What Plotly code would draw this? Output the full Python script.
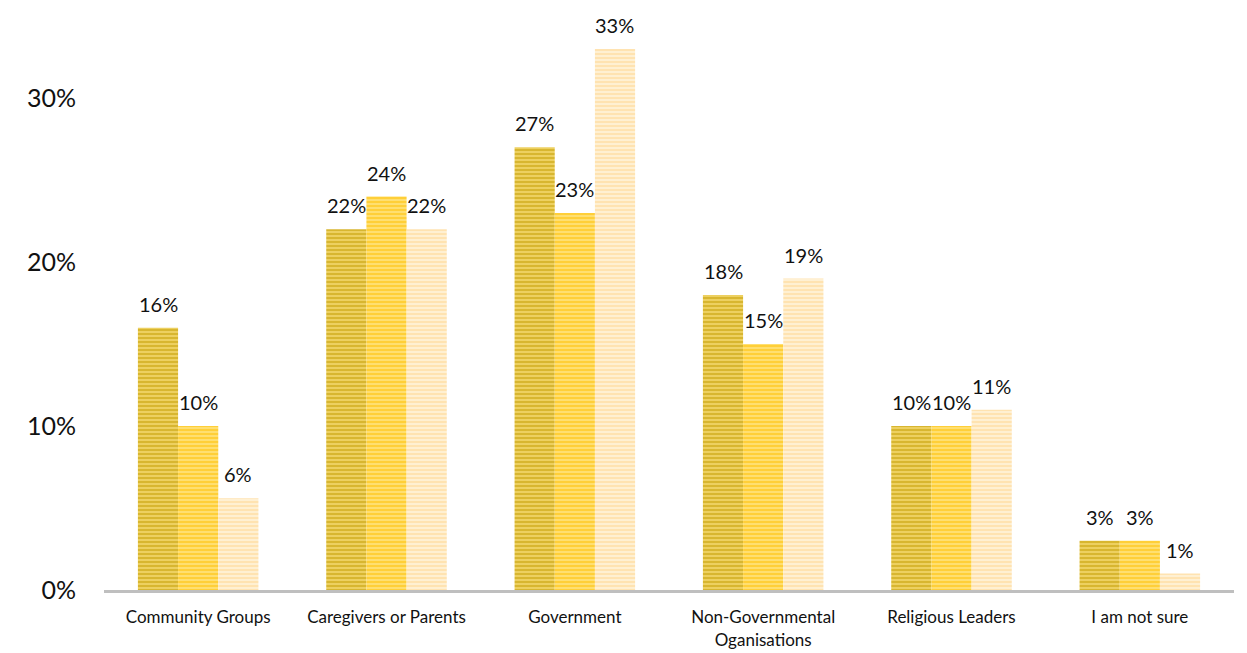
import plotly.graph_objects as go

categories = ['Community Groups', 'Caregivers or Parents', 'Government',
              'Non-Governmental<br>Oganisations', 'Religious Leaders', 'I am not sure']
series_a = [16, 22, 27, 18, 10, 3]
series_b = [10, 24, 23, 15, 10, 3]
series_c = [5.6, 22, 33, 19, 11, 1]
labels_a = [16, 22, 27, 18, 10, 3]
labels_b = [10, 24, 23, 15, 10, 3]
labels_c = [6, 22, 33, 19, 11, 1]

styles = [
    ('Series 1', series_a, labels_a, '#EDD060', '#C49B00', -40),
    ('Series 2', series_b, labels_b, '#FFDF70', '#FFC000', 0),
    ('Series 3', series_c, labels_c, '#FFF0D2', '#FFD690', 40),
]

fig = go.Figure()
for name, vals, labs, bg, fg, dx in styles:
    fig.add_trace(go.Bar(
        name=name, x=categories, y=vals,
        marker=dict(color=bg, line=dict(width=0),
                    pattern=dict(shape='-', fgcolor=fg, size=4, solidity=0.5)),
    ))
    for c, v, l in zip(categories, vals, labs):
        fig.add_annotation(x=c, y=v, text=f'{l}%', showarrow=False,
                           xshift=dx, yshift=24,
                           font=dict(size=20, color='#111111'))

fig.update_layout(
    width=1247, height=653,
    barmode='group', bargap=0.36, bargroupgap=0,
    showlegend=False,
    plot_bgcolor='white', paper_bgcolor='white',
    font=dict(family='Lato, Open Sans, sans-serif', color='#111111'),
    margin=dict(l=96, r=21, t=0, b=71),
    xaxis=dict(showgrid=False, showline=True, linecolor='#BFBFBF', linewidth=3,
               ticks='', tickfont=dict(size=17), automargin=False,
               ticklabelstandoff=10),
    yaxis=dict(range=[0, 35.5], tickvals=[0, 10, 20, 30],
               ticktext=['0%', '10%', '20%', '30%'], showgrid=False,
               zeroline=False, showline=False, tickfont=dict(size=25),
               ticklabelstandoff=27, automargin=False),
)

fig.write_html('out.html')
